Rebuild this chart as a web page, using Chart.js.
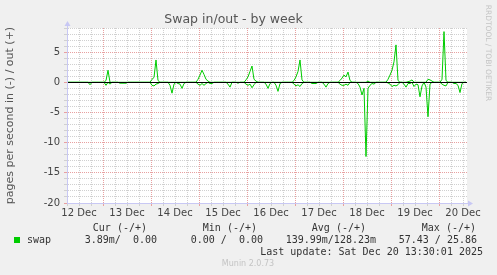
<!DOCTYPE html>
<html lang="en">
<head>
<meta charset="UTF-8">
<title>Swap in/out - by week</title>
<script src="https://cdn.jsdelivr.net/npm/chart.js"></script>
<style>
  body { margin: 0; background: #f0f0f0; overflow: hidden; }
  canvas { display: block; }
</style>
</head>
<body>
<canvas id="swapChart" width="497" height="275"></canvas>
<script>
// hours counted from 12 Dec 00:00, one sample per hour (first sample 06:30)
const startHour = 6.5;
const dayLabels = ['12 Dec', '13 Dec', '14 Dec', '15 Dec', '16 Dec', '17 Dec', '18 Dec', '19 Dec', '20 Dec'];

// swap out (+), pages per second
const swapOut = [
  0,0,0,0,0,0, 0,0,0,0,0,0, 0,0,0,0,0,0,
  0,0.3,2.0,0,0,0, 0,0,0,0,0,0, 0,0,0,0,0,0, 0,0,0,0,0,0,
  0.5,0.8,3.7,0.3,0,0, 0,0,0,0,0,0, 0,0,0,0,0,0, 0,0,0,0,0,0.5,
  1.2,2.0,1.3,0.5,0.2,0, 0,0,0,0,0,0, 0,0,0,0,0,0, 0,0,0,0,0,0.4,
  0.9,1.8,2.7,0.5,0.2,0, 0,0,0,0,0,0, 0,0,0,0,0,0, 0,0,0,0,0,0.3,
  0.9,1.8,3.7,0.4,0,0, 0,0,0,0,0,0, 0,0,0,0,0,0, 0,0,0,0,0.3,0.7,
  1.2,0.9,1.7,0.3,0,0, 0,0,0,0,0,0, 0.2,0,0,0,0,0, 0,0,0,0,0.5,1.2,
  2.0,3.4,6.2,0.3,0,0, 0,0,0.1,0.2,0.4,0, 0,0,0,0,0,0, 0.5,0.4,0.2,0,0,0,
  0,0.5,8.4,0.3,0,0, 0,0,0,0,0,0, 0,0
];

// swap in (-), pages per second
const swapIn = [
  0,0,0,0,0,0, 0,0,0,0,0,-0.4, 0,0,0,0,0,0,
  0,-0.5,0,-0.3,0,0, 0,0,-0.15,-0.15,-0.15,-0.15, 0,0,0,0,0,0, 0,0,0,0,0,0,
  -0.5,-0.6,-0.3,-0.2,0,0, 0,0,0,-0.5,-1.8,-0.3, 0,-0.2,-0.3,-1.0,-0.2,0, 0,0,0,0,0,-0.3,
  -0.5,-0.2,-0.5,-0.2,0,-0.2, -0.2,0,0,0,0,0, 0,0,-0.3,-0.8,0,0, 0,-0.15,0,0,0,-0.3,
  -0.5,-0.3,-0.9,-0.4,0,0, 0,0,0,-0.3,-1.0,-0.2, 0,0,-0.5,-1.5,-0.2,0, 0,0,0,0,0,-0.3,
  -0.6,-0.4,-0.7,-0.2,0,0, 0,0,-0.2,-0.2,-0.2,0, 0,0,-0.3,-0.8,-0.2,0, 0,0,0,0,-0.3,-0.5,
  -0.5,-0.3,-0.5,0,0,0, 0,-0.2,-0.8,-2.1,-1.0,-12.3, -1.0,-0.5,-0.2,-0.3,0,0, 0,0,0,0,-0.1,-0.3,
  -0.7,-0.5,-0.6,-0.4,0,0, -0.3,-0.8,-0.2,-0.2,0,-0.7, -0.3,-0.4,-2.4,-0.6,0,-0.8, -5.7,-0.3,0,0,0,0,
  0,-0.3,-0.5,-0.6,0,0, 0,-0.2,-0.2,-0.5,-1.7,-0.2, 0,0
];

const legendHeads = ['Cur (-/+)', 'Min (-/+)', 'Avg (-/+)', 'Max (-/+)'];
const legendValues = ['3.89m/  0.00', '0.00 /  0.00', '139.99m/128.23m', '57.43 / 25.86'];
const lastUpdate = 'Last update: Sat Dec 20 13:30:01 2025';

const green = '#00cc00';
const axisColor = '#c8c8f4';
const minorGrid = '#d0d0d0';
const majorGrid = '#e8a0a0';

const xTickHours = [];
for (let h = 6; h <= 204; h += 6) xTickHours.push(h);
const yTickValues = [];
for (let v = -20; v <= 9; v++) yTickValues.push(v);

const toPoints = arr => arr.map((v, i) => ({ x: startHour + i, y: v }));

const muninDecor = {
  id: 'muninDecor',
  beforeDraw(chart) {
    const { ctx, chartArea: a } = chart;
    ctx.save();
    ctx.fillStyle = '#f0f0f0';
    ctx.fillRect(0, 0, chart.width, chart.height);
    ctx.fillStyle = '#ffffff';
    ctx.fillRect(a.left, a.top, a.right - a.left, a.bottom - a.top);
    ctx.restore();
  },
  afterDatasetsDraw(chart) {
    const { ctx, chartArea: a } = chart;
    const y0 = Math.round(chart.scales.y.getPixelForValue(0)) + 0.5;
    ctx.save();
    ctx.strokeStyle = '#000';
    ctx.lineWidth = 1;
    ctx.beginPath();
    ctx.moveTo(a.left, y0);
    ctx.lineTo(a.right, y0);
    ctx.stroke();
    ctx.restore();
  },
  afterDraw(chart) {
    const { ctx, chartArea: a } = chart;
    ctx.save();
    // axis extensions and arrows
    const xl = a.left + 0.5, yb = a.bottom + 0.5;
    ctx.strokeStyle = axisColor;
    ctx.fillStyle = axisColor;
    ctx.lineWidth = 1;
    ctx.beginPath();
    ctx.moveTo(xl, a.bottom);
    ctx.lineTo(xl, a.top - 2);
    ctx.moveTo(a.left, yb);
    ctx.lineTo(a.right + 2, yb);
    ctx.stroke();
    ctx.beginPath();
    ctx.moveTo(xl - 3, a.top - 2);
    ctx.lineTo(xl + 3, a.top - 2);
    ctx.lineTo(xl, a.top - 7);
    ctx.closePath();
    ctx.fill();
    ctx.beginPath();
    ctx.moveTo(a.right + 1, yb - 3);
    ctx.lineTo(a.right + 1, yb + 3);
    ctx.lineTo(a.right + 6, yb);
    ctx.closePath();
    ctx.fill();

    // legend
    ctx.font = '10px "DejaVu Sans Mono", monospace';
    ctx.fillStyle = '#333';
    ctx.textBaseline = 'middle';
    ctx.textAlign = 'right';
    const headEnds = [147, 257, 366, 476];
    const valueEnds = [157, 263, 376, 477];
    legendHeads.forEach((t, i) => ctx.fillText(t, headEnds[i], 228));
    legendValues.forEach((t, i) => ctx.fillText(t, valueEnds[i], 240));
    ctx.fillText(lastUpdate, 483, 252);
    ctx.textAlign = 'left';
    ctx.fillText('swap', 27, 240);
    ctx.fillStyle = green;
    ctx.fillRect(14, 237, 6, 6);

    // footer and watermark
    ctx.fillStyle = '#c4c4c4';
    ctx.textAlign = 'center';
    ctx.font = '8px "DejaVu Sans", sans-serif';
    ctx.fillText('Munin 2.0.73', 248, 264);
    ctx.translate(488, 53);
    ctx.rotate(Math.PI / 2);
    ctx.font = '7.5px "DejaVu Sans", sans-serif';
    ctx.fillText('RRDTOOL / TOBI OETIKER', 0, 0);
    ctx.restore();
  }
};

const gridColor = major => c => (c.tick && major(c.tick.value) ? majorGrid : minorGrid);

new Chart(document.getElementById('swapChart'), {
  type: 'line',
  data: {
    datasets: [
      { label: 'swap in', data: toPoints(swapIn), borderColor: green, borderWidth: 1, pointRadius: 0, tension: 0, fill: false },
      { label: 'swap out', data: toPoints(swapOut), borderColor: green, borderWidth: 1, pointRadius: 0, tension: 0, fill: false }
    ]
  },
  options: {
    responsive: false,
    animation: false,
    devicePixelRatio: 1,
    layout: { padding: { left: 0, right: 30, top: 0, bottom: 0 } },
    plugins: {
      legend: { display: false },
      tooltip: { enabled: false },
      title: {
        display: true,
        text: 'Swap in/out - by week',
        color: '#555',
        font: { family: 'DejaVu Sans', size: 12.5, weight: 'normal' },
        padding: { top: 12, bottom: 1 }
      }
    },
    scales: {
      x: {
        type: 'linear',
        min: 6,
        max: 206,
        afterBuildTicks: s => { s.ticks = xTickHours.map(v => ({ value: v })); },
        afterFit: s => { s.height = 72; },
        grid: { color: gridColor(v => v % 24 === 0), lineWidth: 1, drawTicks: true, tickLength: 3 },
        border: { display: true, color: axisColor, dash: [1, 1] },
        ticks: {
          autoSkip: false,
          maxRotation: 0,
          padding: 1,
          color: '#444',
          font: { family: 'DejaVu Sans', size: 10 },
          callback: v => (v % 24 === 12 ? dayLabels[(v - 12) / 24] : '')
        }
      },
      y: {
        type: 'linear',
        min: -20,
        max: 9,
        afterBuildTicks: s => { s.ticks = yTickValues.map(v => ({ value: v })); },
        afterFit: s => { s.width = 67; },
        grid: { color: gridColor(v => v % 5 === 0), lineWidth: 1, drawTicks: true, tickLength: 3 },
        border: { display: true, color: axisColor, dash: [1, 1] },
        ticks: {
          autoSkip: false,
          padding: 4,
          color: '#444',
          font: { family: 'DejaVu Sans', size: 10 },
          callback: v => (v % 5 === 0 ? String(v) : '')
        },
        title: {
          display: true,
          text: 'pages per second in (-) / out (+)',
          color: '#555',
          font: { family: 'DejaVu Sans', size: 11 },
          padding: { top: 3.5, bottom: 0 }
        }
      }
    }
  },
  plugins: [muninDecor]
});
</script>
</body>
</html>
